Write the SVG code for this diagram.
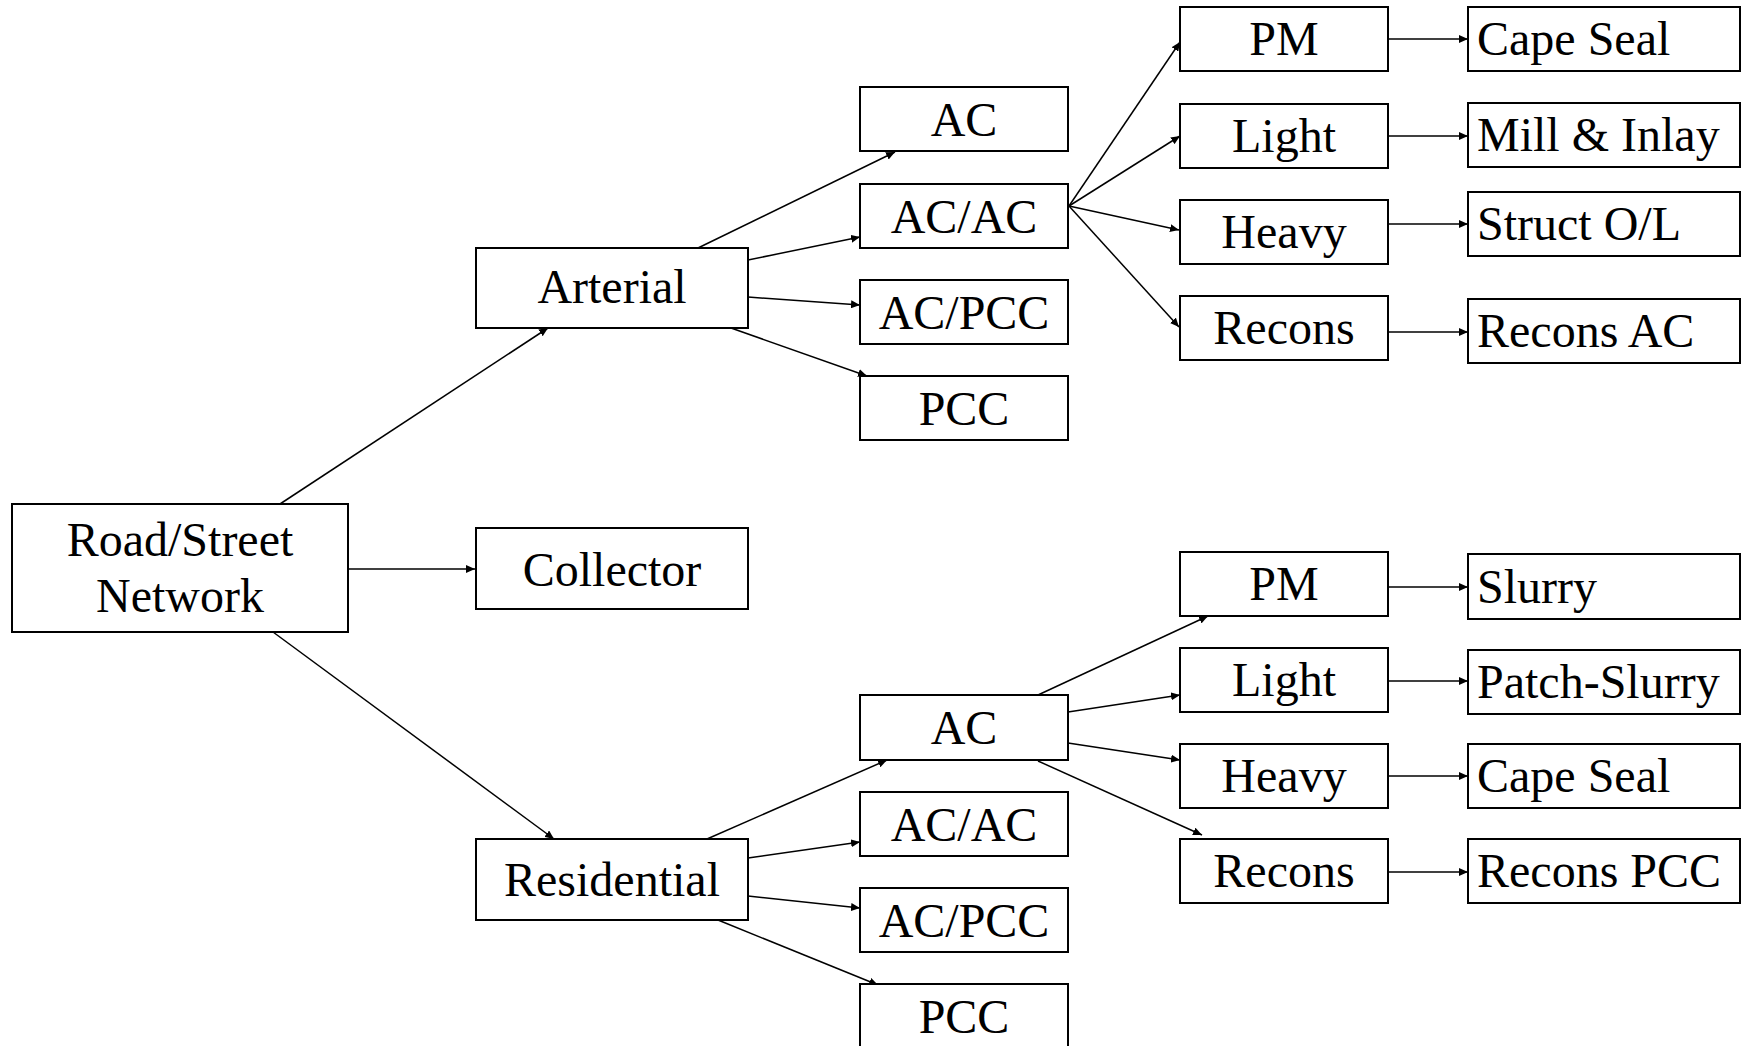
<svg xmlns="http://www.w3.org/2000/svg" width="1744" height="1046" viewBox="0 0 1744 1046">
<style>
.box{fill:#fff;stroke:#000;stroke-width:2}
.t{font-family:"Liberation Serif","Times New Roman",serif;font-size:48px;fill:#000}
.c{text-anchor:middle}
.e{fill:none;stroke:#000;stroke-width:1.5;marker-end:url(#ah)}
</style>
<defs>
<marker id="ah" markerUnits="userSpaceOnUse" markerWidth="10" markerHeight="8" refX="9" refY="4" orient="auto">
<path d="M0,0 L9,4 L0,8 z" fill="#000"/>
</marker>
</defs>
<rect width="1744" height="1046" fill="#fff"/>
<g id="connectors">
<line class="e" x1="280" y1="504" x2="548" y2="328"/>
<line class="e" x1="348" y1="569" x2="475" y2="569"/>
<line class="e" x1="273" y1="632" x2="554" y2="839"/>
<line class="e" x1="698" y1="248" x2="895" y2="152"/>
<line class="e" x1="748" y1="260" x2="860" y2="237"/>
<line class="e" x1="748" y1="297" x2="860" y2="305"/>
<line class="e" x1="731" y1="328" x2="867" y2="376"/>
<line class="e" x1="1069" y1="206" x2="1180" y2="42"/>
<line class="e" x1="1069" y1="206" x2="1180" y2="136"/>
<line class="e" x1="1069" y1="206" x2="1179" y2="230"/>
<line class="e" x1="1069" y1="206" x2="1179" y2="327"/>
<line class="e" x1="1388" y1="39" x2="1468" y2="39"/>
<line class="e" x1="1388" y1="136" x2="1468" y2="136"/>
<line class="e" x1="1388" y1="224" x2="1468" y2="224"/>
<line class="e" x1="1388" y1="332" x2="1468" y2="332"/>
<line class="e" x1="707" y1="839" x2="887" y2="760"/>
<line class="e" x1="748" y1="858" x2="860" y2="842"/>
<line class="e" x1="748" y1="896" x2="860" y2="908"/>
<line class="e" x1="718" y1="920" x2="878" y2="985"/>
<line class="e" x1="1038" y1="695" x2="1208" y2="616"/>
<line class="e" x1="1068" y1="712" x2="1180" y2="695"/>
<line class="e" x1="1068" y1="743" x2="1180" y2="760"/>
<line class="e" x1="1038" y1="761" x2="1202" y2="835"/>
<line class="e" x1="1388" y1="587" x2="1468" y2="587"/>
<line class="e" x1="1388" y1="681" x2="1468" y2="681"/>
<line class="e" x1="1388" y1="776" x2="1468" y2="776"/>
<line class="e" x1="1388" y1="872" x2="1468" y2="872"/>
</g>
<g id="road"><rect class="box" x="12" y="504" width="336" height="128"/><text class="t c" x="180" y="556">Road/Street</text><text class="t c" x="180" y="612">Network</text></g>
<g id="arterial"><rect class="box" x="476" y="248" width="272" height="80"/><text class="t c" x="612" y="303">Arterial</text></g>
<g id="collector"><rect class="box" x="476" y="528" width="272" height="81"/><text class="t c" x="612" y="586">Collector</text></g>
<g id="residential"><rect class="box" x="476" y="839" width="272" height="81"/><text class="t c" x="612" y="896">Residential</text></g>
<g id="a_ac"><rect class="box" x="860" y="87" width="208" height="64"/><text class="t c" x="964" y="136">AC</text></g>
<g id="a_acac"><rect class="box" x="860" y="184" width="208" height="64"/><text class="t c" x="964" y="233">AC/AC</text></g>
<g id="a_acpcc"><rect class="box" x="860" y="280" width="208" height="64"/><text class="t c" x="964" y="329">AC/PCC</text></g>
<g id="a_pcc"><rect class="box" x="860" y="376" width="208" height="64"/><text class="t c" x="964" y="425">PCC</text></g>
<g id="r_ac"><rect class="box" x="860" y="695" width="208" height="65"/><text class="t c" x="964" y="744">AC</text></g>
<g id="r_acac"><rect class="box" x="860" y="792" width="208" height="64"/><text class="t c" x="964" y="841">AC/AC</text></g>
<g id="r_acpcc"><rect class="box" x="860" y="888" width="208" height="64"/><text class="t c" x="964" y="937">AC/PCC</text></g>
<g id="r_pcc"><rect class="box" x="860" y="984" width="208" height="64"/><text class="t c" x="964" y="1033">PCC</text></g>
<g id="a_pm"><rect class="box" x="1180" y="7" width="208" height="64"/><text class="t c" x="1284" y="55">PM</text></g>
<g id="a_light"><rect class="box" x="1180" y="104" width="208" height="64"/><text class="t c" x="1284" y="152">Light</text></g>
<g id="a_heavy"><rect class="box" x="1180" y="200" width="208" height="64"/><text class="t c" x="1284" y="248">Heavy</text></g>
<g id="a_recons"><rect class="box" x="1180" y="296" width="208" height="64"/><text class="t c" x="1284" y="344">Recons</text></g>
<g id="r_pm"><rect class="box" x="1180" y="552" width="208" height="64"/><text class="t c" x="1284" y="600">PM</text></g>
<g id="r_light"><rect class="box" x="1180" y="648" width="208" height="64"/><text class="t c" x="1284" y="696">Light</text></g>
<g id="r_heavy"><rect class="box" x="1180" y="744" width="208" height="64"/><text class="t c" x="1284" y="792">Heavy</text></g>
<g id="r_recons"><rect class="box" x="1180" y="839" width="208" height="64"/><text class="t c" x="1284" y="887">Recons</text></g>
<g id="cape_seal_1"><rect class="box" x="1468" y="7" width="272" height="64"/><text class="t" x="1477" y="55">Cape Seal</text></g>
<g id="mill_inlay"><rect class="box" x="1468" y="103" width="272" height="64"/><text class="t" x="1477" y="151">Mill &amp; Inlay</text></g>
<g id="struct_ol"><rect class="box" x="1468" y="192" width="272" height="64"/><text class="t" x="1477" y="240">Struct O/L</text></g>
<g id="recons_ac"><rect class="box" x="1468" y="299" width="272" height="64"/><text class="t" x="1477" y="347">Recons AC</text></g>
<g id="slurry"><rect class="box" x="1468" y="554" width="272" height="65"/><text class="t" x="1477" y="603">Slurry</text></g>
<g id="patch_slurry"><rect class="box" x="1468" y="650" width="272" height="64"/><text class="t" x="1477" y="698">Patch-Slurry</text></g>
<g id="cape_seal_2"><rect class="box" x="1468" y="744" width="272" height="64"/><text class="t" x="1477" y="792">Cape Seal</text></g>
<g id="recons_pcc"><rect class="box" x="1468" y="839" width="272" height="64"/><text class="t" x="1477" y="887">Recons PCC</text></g>
</svg>
